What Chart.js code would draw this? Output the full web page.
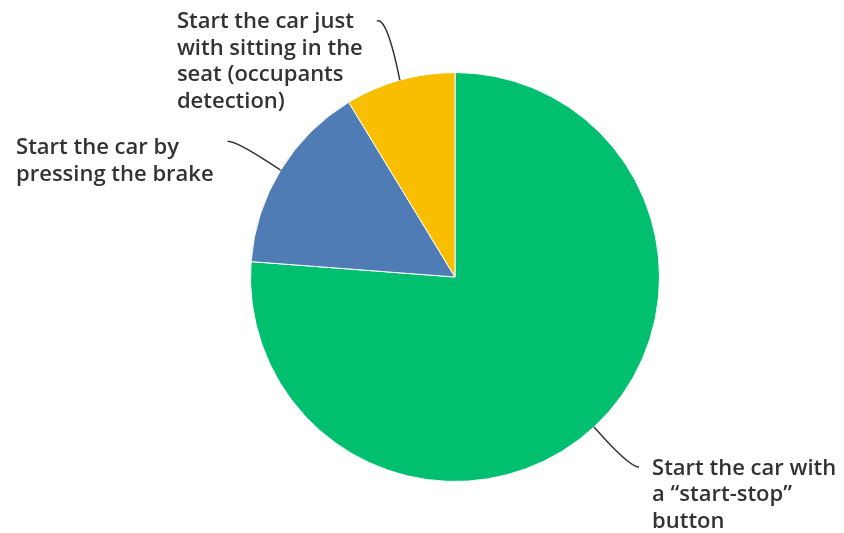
<!DOCTYPE html>
<html>
<head>
<meta charset="utf-8">
<script src="https://cdn.jsdelivr.net/npm/chart.js@4"></script>
<style>
  html, body { margin: 0; padding: 0; background: #fff; }
  #wrap { width: 844px; height: 533px; position: relative; }
</style>
</head>
<body>
<div id="wrap"><canvas id="c" width="844" height="533"></canvas></div>
<script>
// Data
const categories = [
  "Start the car with a \u201cstart-stop\u201d button",
  "Start the car by pressing the brake",
  "Start the car just with sitting in the seat (occupants detection)"
];
const values = [76.2, 15.1, 8.7];
const labelLines = [
  ["Start the car with", "a \u201cstart-stop\u201d", "button"],
  ["Start the car by", "pressing the brake"],
  ["Start the car just", "with sitting in the", "seat (occupants", "detection)"]
];
const colors = ["#00BF6F", "#507CB6", "#F9BE00"];

// leader-line style per slice: length out from arc (dx, dy), side of text
const leaders = [
  { dx: 45, dy: 40, side: 1, hy: 0, ty: 8, gap: 13 },
  { dx: -53, dy: -29, side: -1, hy: 0, ty: 13, gap: 14 },
  { dx: -23, dy: -59, side: -1, hy: -5, ty: 7, gap: 14 }
];

const FONT = "600 22px 'Open Sans', sans-serif";
const LH = 26.5;

const leaderPlugin = {
  id: 'leaders',
  afterDatasetsDraw(chart) {
    const ctx = chart.ctx;
    const meta = chart.getDatasetMeta(0);
    ctx.save();
    ctx.font = FONT;
    meta.data.forEach((arc, i) => {
      const mid = (arc.startAngle + arc.endAngle) / 2;
      const sx = arc.x + Math.cos(mid) * arc.outerRadius;
      const sy = arc.y + Math.sin(mid) * arc.outerRadius;
      const L = leaders[i];
      const ex = sx + L.dx, ey = sy + L.dy;
      const cx = ex - L.side * 10, cy = ey + L.hy;
      ctx.beginPath();
      ctx.strokeStyle = '#333';
      ctx.lineWidth = 1.5;
      ctx.moveTo(sx, sy);
      ctx.quadraticCurveTo(cx, cy, ex, ey);
      ctx.stroke();
      const lines = labelLines[i];
      const w = Math.max(...lines.map(t => ctx.measureText(t).width));
      const left = L.side > 0 ? ex + L.gap : ex - L.gap - w;
      ctx.fillStyle = '#333';
      ctx.textAlign = 'left';
      ctx.textBaseline = 'alphabetic';
      lines.forEach((t, k) => ctx.fillText(t, left, ey + L.ty + k * LH));
    });
    ctx.restore();
  }
};

new Chart(document.getElementById('c'), {
  type: 'pie',
  data: {
    labels: categories,
    datasets: [{
      data: values,
      backgroundColor: colors,
      borderColor: '#ffffff',
      borderWidth: 1
    }]
  },
  options: {
    responsive: false,
    animation: false,
    layout: { padding: { top: 72, bottom: 51, left: 100, right: 34 } },
    plugins: {
      legend: { display: false },
      tooltip: { enabled: false }
    }
  },
  plugins: [leaderPlugin]
});
</script>
</body>
</html>
